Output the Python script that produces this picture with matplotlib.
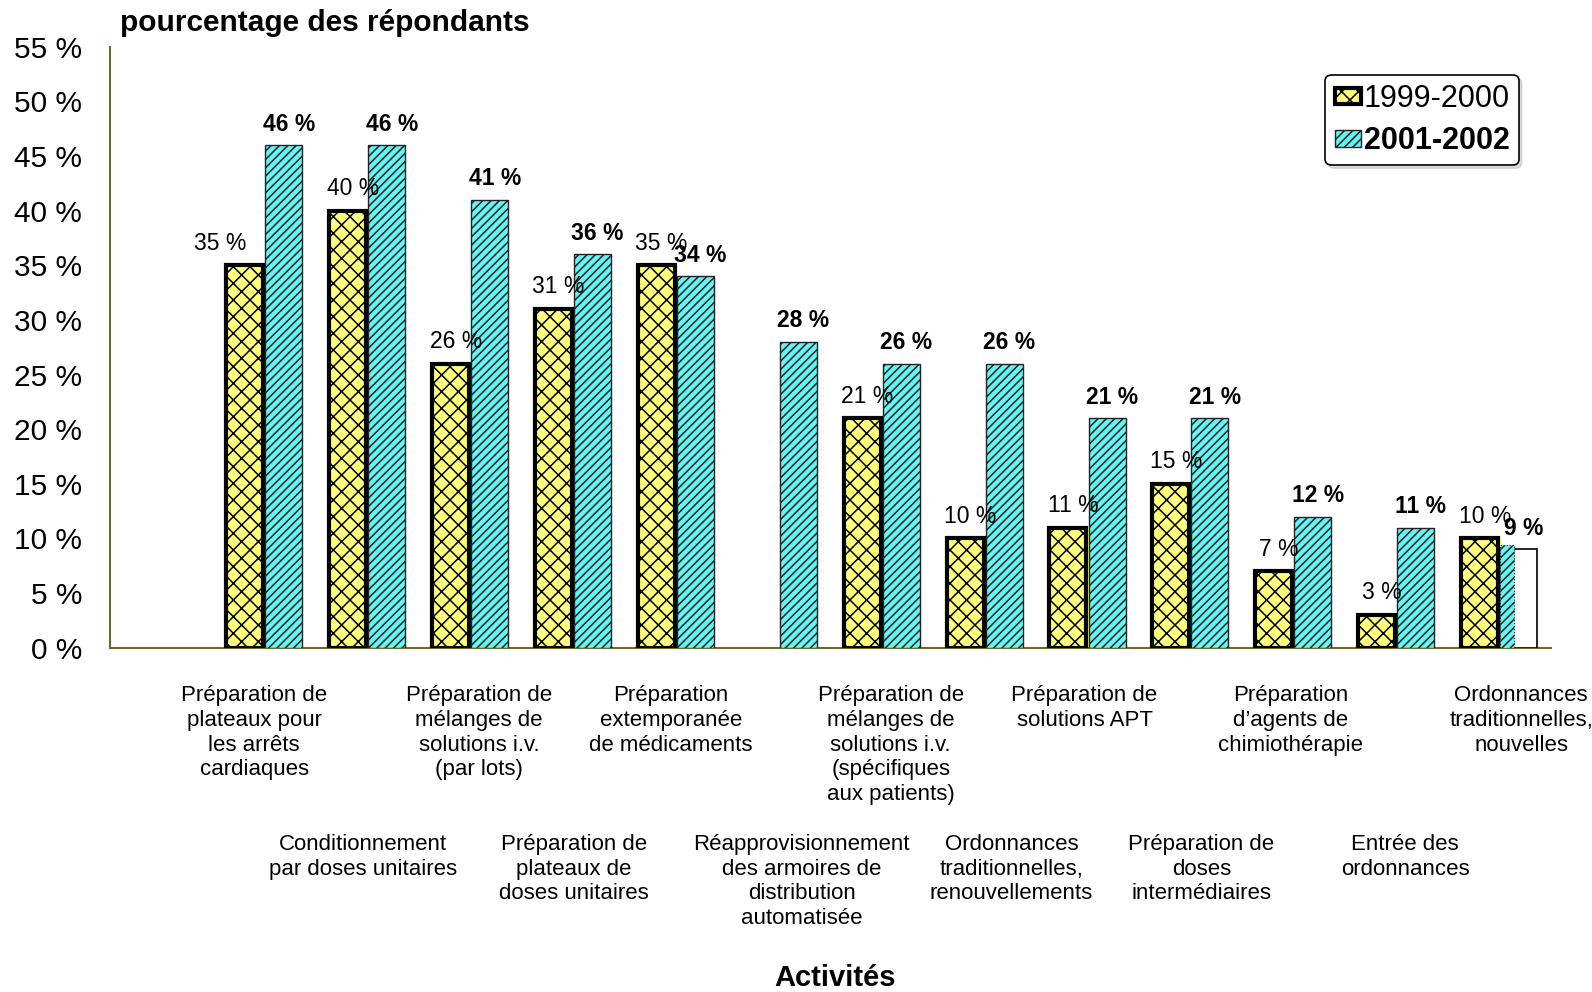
import numpy as np
import matplotlib
matplotlib.use('Agg')
import matplotlib.pyplot as plt
from matplotlib.patches import Patch
from matplotlib.transforms import blended_transform_factory

plt.rcParams['font.family'] = ['Liberation Sans', 'DejaVu Sans']
plt.rcParams['hatch.linewidth'] = 1.1

# data
categories = [
    "Préparation de\nplateaux pour\nles arrêts\ncardiaques",
    "Conditionnement\npar doses unitaires",
    "Préparation de\nmélanges de\nsolutions i.v.\n(par lots)",
    "Préparation de\nplateaux de\ndoses unitaires",
    "Préparation\nextemporanée\nde médicaments",
    "Réapprovisionnement\ndes armoires de\ndistribution\nautomatisée",
    "Préparation de\nmélanges de\nsolutions i.v.\n(spécifiques\naux patients)",
    "Ordonnances\ntraditionnelles,\nrenouvellements",
    "Préparation de\nsolutions APT",
    "Préparation de\ndoses\nintermédiaires",
    "Préparation\nd’agents de\nchimiothérapie",
    "Entrée des\nordonnances",
    "Ordonnances\ntraditionnelles,\nnouvelles",
]
vals_1999 = [35, 40, 26, 31, 35, None, 21, 10, 11, 15, 7, 3, 10]
vals_2001 = [46, 46, 41, 36, 34, 28, 26, 26, 21, 21, 12, 11, 9]
series_names = ["1999-2000", "2001-2002"]
yticks = list(range(0, 56, 5))

# label nudges (px) to sit like the original
label_dx = [-10, -4, 9, 1, -5, 23, 9, 27, -3, 11, -3, 9, 22]

YELLOW = '#FFFF80'
CYAN = '#66F5F5'
OLIVE = '#6b6b30'

fig = plt.figure(figsize=(15.92, 9.92), dpi=100)
ax = fig.add_axes([0.069, 0.347, 0.905, 0.606])

x = np.arange(1, len(categories) + 1)
w = 0.36
off = 0.19

for i, (v1, v2) in enumerate(zip(vals_1999, vals_2001)):
    xi = x[i]
    if v1 is not None:
        # yellow outer rim then black framed crosshatch bar
        ax.bar(xi - off, v1, width=w + 0.03, color=YELLOW, edgecolor=YELLOW, linewidth=1, zorder=2)
        ax.bar(xi - off, v1, width=w, color=YELLOW, edgecolor='black', hatch='xx',
               linewidth=3, zorder=3)
        dx = -0.24 if i == 0 else 0.05
        ax.annotate(f"{v1} %", (xi - off + dx, v1), xytext=(0, 16), textcoords='offset points',
                    ha='center', va='center', fontsize=16.5, zorder=5)
    if i == len(categories) - 1:
        # last bar renders mostly blank in the original
        ax.bar(xi + off, v2, width=w, color='white', edgecolor='black', linewidth=1.2, zorder=3)
        ax.bar(xi + off - w / 2 + 0.065, v2 + 0.4, width=0.13, color=CYAN, edgecolor='#222222',
               hatch='////', linewidth=0.8, linestyle=':', zorder=4)
    else:
        ax.bar(xi + off, v2, width=w, color=CYAN, edgecolor='#222222', hatch='////',
               linewidth=1.0, zorder=3)
    ax.annotate(f"{v2} %", (xi + off + 0.05, v2), xytext=(0, 15), textcoords='offset points',
                ha='center', va='center', fontsize=16.5, fontweight='bold', zorder=6)

ax.set_xlim(-0.5, 13.5)
ax.set_ylim(0, 55)
ax.set_yticks(yticks)
ax.set_yticklabels([f"{t} %" for t in yticks], fontsize=21.5)
ax.tick_params(axis='y', length=0, pad=20)
ax.set_xticks([])

for s in ['top', 'right']:
    ax.spines[s].set_visible(False)
ax.spines['left'].set_color(OLIVE)
ax.spines['bottom'].set_color(OLIVE)
ax.spines['left'].set_linewidth(1.5)
ax.spines['bottom'].set_linewidth(1.5)

# category labels in two staggered rows
trans = blended_transform_factory(ax.transData, ax.transAxes)
for i, lab in enumerate(categories):
    yoff = -27 if i % 2 == 0 else -134
    ax.annotate(lab, (x[i], 0), xycoords=trans, xytext=(label_dx[i] * 0.72, yoff),
                textcoords='offset points', ha='center', va='top', fontsize=16,
                linespacing=1.23, annotation_clip=False)

fig.text(835 / 1592, 1 - 978 / 992, "Activités", ha='center', va='center', fontsize=21,
         fontweight='bold')
fig.text(120 / 1592, 1 - 23 / 992, "pourcentage des répondants", ha='left', va='center',
         fontsize=21.5, fontweight='bold')

handles = [
    Patch(facecolor=YELLOW, edgecolor='black', hatch='xx', linewidth=3),
    Patch(facecolor=CYAN, edgecolor='#222222', hatch='////', linewidth=1),
]
leg = ax.legend(handles, series_names, loc='upper right', bbox_to_anchor=(0.978, 0.953),
                fontsize=22, frameon=True, fancybox=True, shadow={'color': '#bbbbbb'},
                handlelength=0.85, handleheight=0.45, handletextpad=0.1, labelspacing=0.4,
                borderpad=0.3, borderaxespad=0)
leg.get_frame().set_edgecolor('black')
leg.get_frame().set_linewidth(1.2)
leg.get_texts()[1].set_fontweight('bold')

fig.savefig('out.png', dpi=100)
